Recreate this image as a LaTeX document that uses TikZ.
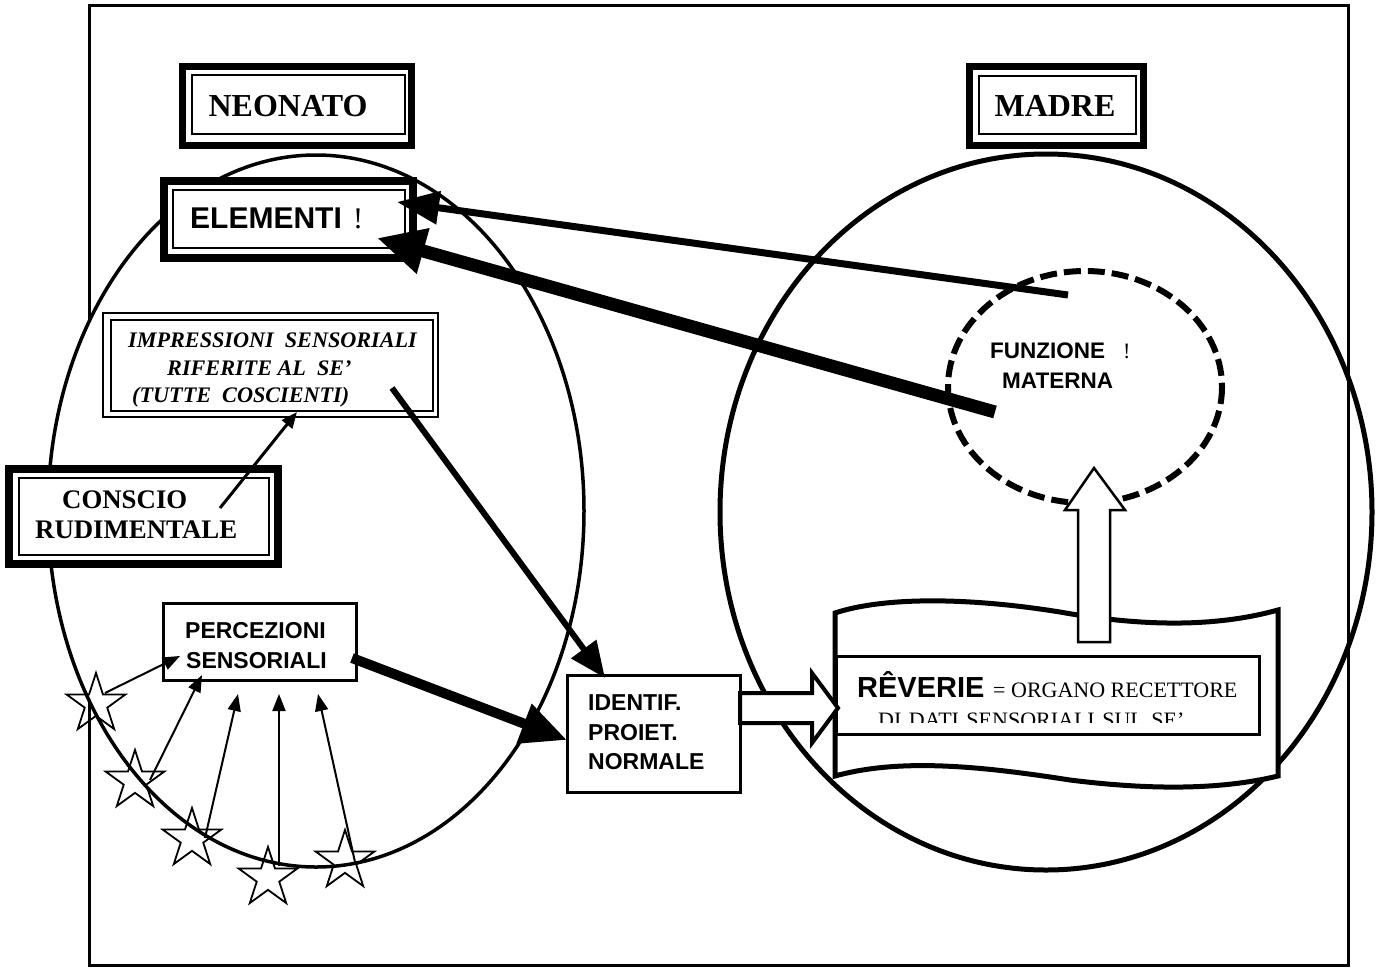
\documentclass[tikz,border=0pt]{standalone}
\usepackage{fontspec}
\setmainfont{Liberation Serif}
\setsansfont{Liberation Sans}
\newfontfamily\heavysans{Liberation Sans Bold}
\usetikzlibrary{arrows.meta,shapes.geometric}

\tikzset{
  thickbox/.style={draw, line width=8pt, fill=white, inner sep=0pt},
  thinrule/.style={draw, line width=1.2pt},
  plainbox/.style={draw, line width=3pt, fill=white, inner sep=0pt},
  lbl/.style={inner sep=0pt, anchor=base west},
  serifhead/.style={font=\fontsize{32}{36}\selectfont\bfseries},
  sanshead/.style={font=\fontsize{23}{26}\selectfont\heavysans},
  starnode/.style={star, star points=5, star point ratio=2.618, minimum size=62pt,
                   inner sep=0pt, draw, line width=1.8pt},
  starlink/.style={line width=2pt, -{Triangle[length=17pt,width=13pt]}},
  blockarrow/.style={draw, fill=white, line width=4pt, line join=miter}
}

\begin{document}
\begin{tikzpicture}[x=1pt,y=-1pt]
\useasboundingbox (0,0) rectangle (1379,970);

% outer frame
\draw[line width=3pt] (89,5) rectangle (1348,965);

% the two large regions
\draw[line width=3.5pt, fill=white] (316,511) ellipse [x radius=268, y radius=356];
\draw[line width=5pt] (1046,512) ellipse [x radius=326, y radius=358];

% headings
\node[thickbox, line width=7pt, minimum width=229pt, minimum height=79pt] (neonato) at (296.5,105.5) {};
\draw[thinrule] (192,75) rectangle (405,134);
\node[lbl, anchor=base, serifhead] (neonatotxt) at (288,116) {NEONATO};

\node[thickbox, line width=7pt, minimum width=174pt, minimum height=79pt] (madre) at (1056,105.5) {};
\draw[thinrule] (979,76) rectangle (1136,134);
\node[lbl, anchor=base, serifhead] (madretxt) at (1055,116) {MADRE};

% ELEMENTI
\node[thickbox, minimum width=249pt, minimum height=77pt] (elem) at (288.5,219.5) {};
\draw[thinrule] (173,190) rectangle (405,248);
\node[lbl, font=\fontsize{30}{34}\selectfont\heavysans] (elemtxt) at (190,228) {ELEMENTI};
\node[lbl, font=\fontsize{30}{34}\selectfont] (elemexcl) at (353,228) {!};

% impressioni sensoriali
\node[draw, line width=1.2pt, fill=white, inner sep=0pt, minimum width=335pt, minimum height=104pt] (impr) at (270.5,365) {};
\draw[thinrule] (111,320) rectangle (433,411);
\begin{scope}[font=\fontsize{22.2}{26}\selectfont\bfseries\itshape]
  \node[lbl] (impr1) at (128,347) {IMPRESSIONI\ \ SENSORIALI};
  \node[lbl] (impr2) at (167,375) {RIFERITE AL\ \ SE’};
  \node[lbl] (impr3) at (132,402) {(TUTTE\ \ COSCIENTI)};
\end{scope}

% conscio rudimentale
\node[thickbox, minimum width=269pt, minimum height=95pt] (conscio) at (143.5,516.5) {};
\draw[thinrule] (19,478) rectangle (269,555);
\begin{scope}[font=\fontsize{26.8}{30}\selectfont\bfseries]
  \node[lbl] (conscio1) at (62,508) {CONSCIO};
  \node[lbl] (conscio2) at (35,538) {RUDIMENTALE};
\end{scope}

% percezioni sensoriali
\node[plainbox, minimum width=193pt, minimum height=77pt] (perc) at (259.5,641.5) {};
\node[lbl, sanshead] (perc1) at (185,638) {PERCEZIONI};
\node[lbl, sanshead] (perc2) at (186,668) {SENSORIALI};

% identificazione proiettiva normale
\node[plainbox, minimum width=173pt, minimum height=117pt] (ident) at (653.5,733.5) {};
\node[lbl, sanshead] (ident1) at (588,710) {IDENTIF.};
\node[lbl, sanshead] (ident2) at (588,740) {PROIET.};
\node[lbl, sanshead] (ident3) at (588,769) {NORMALE};

% reverie banner
\draw[line width=5pt, fill=white, line join=miter]
  (835,613) .. controls (880,598) and (960,596) .. (1060,612)
            .. controls (1150,628) and (1220,626) .. (1278,610)
  -- (1278,776)
            .. controls (1220,790) and (1150,790) .. (1070,780)
            .. controls (980,766) and (900,758) .. (835,776) -- cycle;
\node[plainbox, minimum width=423pt, minimum height=78pt] (reverie) at (1047.5,695) {};
\node[lbl, font=\fontsize{29}{32}\selectfont\heavysans] (reverie1) at (857,697) {RÊVERIE};
\node[lbl, font=\fontsize{22}{26}\selectfont] (reverie1b) at (993,697) {= ORGANO RECETTORE};
\begin{scope}
  \clip (838,700) rectangle (1257,722);
  \node[lbl, font=\fontsize{22}{26}\selectfont] (reverie2) at (878,727)
    {DI\hspace{7.5pt}DATI\hspace{7.5pt}SENSORIALI\hspace{7.5pt}SUL\hspace{7.5pt}SE’};
\end{scope}

% funzione materna
\draw[line width=6pt, dash pattern=on 17pt off 7pt] (1085,387) ellipse [x radius=137, y radius=116];
\coordinate (funz) at (1085,387);
\node[lbl, font=\fontsize{22.5}{26}\selectfont\heavysans] (funz1) at (990,358) {FUNZIONE};
\node[lbl, font=\fontsize{22}{26}\selectfont] (funzexcl) at (1123,358) {!};
\node[lbl, font=\fontsize{22.5}{26}\selectfont\heavysans] (funz2) at (1002,388) {MATERNA};

% hollow block arrows
\draw[blockarrow] (740,693) -- (812,693) -- (812,673) -- (838,708) -- (812,743) -- (812,723) -- (740,723) -- cycle;
\draw[blockarrow, line width=2.5pt] (1078,642) -- (1078,510) -- (1065,510) -- (1094,468) -- (1125,510) -- (1110,510) -- (1110,642) -- cycle;

% connector end points
\coordinate (fmA) at (1068,295);
\coordinate (fmB) at (995,412);
\coordinate (elA) at (397,202);
\coordinate (elB) at (377,238);
\coordinate (imOut) at (392,388);
\coordinate (idIn) at (605,678);
\coordinate (pcOut) at (352,658);
\coordinate (idLeft) at (567,740);
\coordinate (coOut) at (220,508);
\coordinate (imIn) at (297,412);

% arrows back to the elements
\draw[line width=7pt, -{Triangle[length=42pt,width=32pt]}] (fmA) -- (elA);
\draw[line width=13pt, -{Triangle[length=48pt,width=44pt]}] (fmB) -- (elB);

% flows between the boxes
\draw[line width=6pt, -{Triangle[length=36pt,width=30pt]}] (imOut) -- (idIn);
\draw[line width=10pt, -{Triangle[length=46pt,width=40pt]}] (pcOut) -- (idLeft);
\draw[line width=3pt, -{Triangle[length=16pt,width=13pt]}] (coOut) -- (imIn);

% sensory stimuli
\node[starnode] (s1) at (96,704) {};
\node[starnode] (s2) at (135,781) {};
\node[starnode] (s3) at (192,839) {};
\node[starnode] (s4) at (268,878) {};
\node[starnode] (s5) at (345,861) {};

\draw[starlink] (s1.center) ++(9,-11) -- (180,656);
\draw[starlink] (s2.center) ++(15,-1) -- (202,675);
\draw[starlink] (s3.center) ++(13,-1) -- (238,694);
\draw[starlink] (279,866) -- (279,694);
\draw[starlink] (s5.center) ++(10,1) -- (318,694);
\end{tikzpicture}
\end{document}
